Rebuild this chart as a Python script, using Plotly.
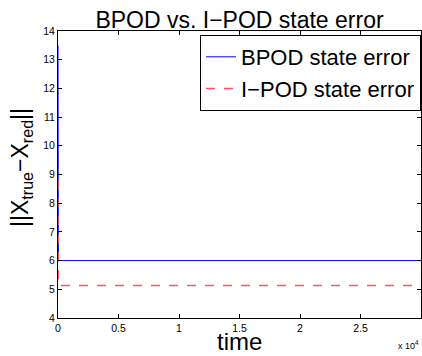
import plotly.graph_objects as go

time = [0, 30, 30000]
bpod_err = [13.5, 6.0, 6.0]
ipod_err = [8.8, 5.13, 5.13]
x_tick_vals = [0, 5000, 10000, 15000, 20000, 25000, 30000]
x_tick_text = ["0", "0.5", "1", "1.5", "2", "2.5", "3"]
y_tick_vals = list(range(4, 15))

font = "Liberation Sans, Arial, Helvetica, sans-serif"

fig = go.Figure()
fig.add_trace(go.Scatter(x=time, y=bpod_err, mode="lines", name="BPOD state error",
                         line=dict(color="#0000ff", width=1)))
fig.add_trace(go.Scatter(x=time, y=ipod_err, mode="lines", name="I\u2212POD state error",
                         line=dict(color="#ff5555", width=1.5, dash="dash")))

axis_common = dict(showgrid=False, zeroline=False, showline=True, linecolor="black",
                   linewidth=1, mirror="ticks", ticks="inside", ticklen=4, automargin=False,
                   tickcolor="black", tickfont=dict(size=10.5, color="black", family=font))

fig.update_layout(
    width=422, height=356,
    margin=dict(l=58, r=1, t=31, b=38),
    paper_bgcolor="white", plot_bgcolor="white",
    font=dict(family=font, color="black"),
    title=dict(text="BPOD vs. I\u2212POD state error", xref="paper", x=0.5, xanchor="center",
               yref="container", y=0.945, yanchor="middle", font=dict(size=23, color="black")),
    xaxis=dict(range=[0, 30000], tickvals=x_tick_vals, ticktext=x_tick_text, **axis_common),
    yaxis=dict(range=[4, 14], tickvals=y_tick_vals, **axis_common),
    legend=dict(x=1, y=0.986, xanchor="right", yanchor="top", bgcolor="white",
                bordercolor="black", borderwidth=1, font=dict(size=22, color="black"),
                tracegroupgap=0, itemwidth=30),
    showlegend=True,
)
fig.add_annotation(text="time", xref="paper", yref="paper", x=0.5, y=-0.082,
                   xanchor="center", yanchor="middle", showarrow=False,
                   font=dict(size=24, color="black"))
fig.add_annotation(text="||X<sub>true</sub>\u2212X<sub>red</sub>||", xref="paper", yref="paper",
                   x=-0.099, y=0.523, xanchor="center", yanchor="middle", textangle=-90,
                   showarrow=False, font=dict(size=23, color="black"))
fig.add_annotation(text="x 10<sup>4</sup>", xref="paper", yref="paper", x=1.0, y=-0.094,
                   xanchor="right", yanchor="middle", showarrow=False,
                   font=dict(size=9, color="black"))

fig.write_html(
    "out.html",
    config={"displayModeBar": False},
    post_script="document.body.style.margin='0';document.body.style.overflow='hidden';",
)
